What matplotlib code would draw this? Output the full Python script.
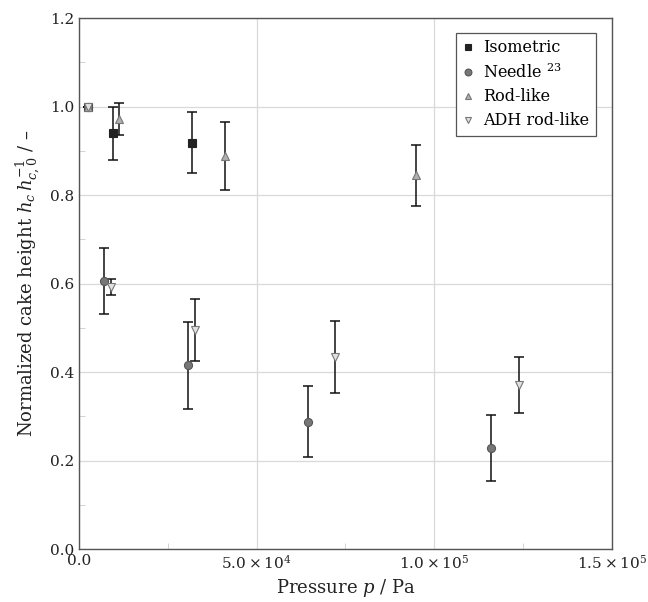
import matplotlib
matplotlib.use("Agg")
import matplotlib.pyplot as plt
from matplotlib.ticker import FixedLocator, MultipleLocator

plt.rcParams["font.family"] = ["DejaVu Serif"]
plt.rcParams["mathtext.fontset"] = "dejavuserif"

# pressure in Pa, normalized cake height, symmetric error
iso_p = [2600, 9500, 31700]
iso_h = [1.0, 0.940, 0.918]
iso_err = [0.0, 0.060, 0.069]

needle_p = [2600, 7100, 30600, 64400, 115900]
needle_h = [1.0, 0.606, 0.415, 0.288, 0.228]
needle_err = [0.0, 0.074, 0.098, 0.081, 0.074]

rod_p = [2600, 11300, 41200, 94800]
rod_h = [1.0, 0.972, 0.888, 0.845]
rod_err = [0.0, 0.037, 0.077, 0.069]

adh_p = [2600, 9000, 32600, 72200, 123900]
adh_h = [1.0, 0.593, 0.494, 0.434, 0.371]
adh_err = [0.0, 0.018, 0.070, 0.081, 0.063]

x_ticks = [0, 5e4, 1e5, 1.5e5]
x_tick_labels = ["0.0", r"$5.0\times10^{4}$", r"$1.0\times10^{5}$", r"$1.5\times10^{5}$"]

fig = plt.figure(figsize=(6.48, 6.02), dpi=100)
ax = fig.add_axes([0.122, 0.088, 0.822, 0.882])

series = [
    (iso_p, iso_h, iso_err, "s", "#222222", "#222222", "Isometric"),
    (needle_p, needle_h, needle_err, "o", "#777777", "#555555", r"Needle $^{23}$"),
    (rod_p, rod_h, rod_err, "^", "#b0b0b0", "#777777", "Rod-like"),
    (adh_p, adh_h, adh_err, "v", "#e2e2e2", "#777777", "ADH rod-like"),
]
for p, h, err, marker, face, edge, label in series:
    ax.errorbar(p, h, yerr=err, fmt="none", ecolor="#111111", elinewidth=1.1,
                capsize=3.5, capthick=1.1, zorder=3)
    ax.plot(p, h, linestyle="none", marker=marker, markersize=5.8,
            markerfacecolor=face, markeredgecolor=edge, markeredgewidth=0.8,
            label=label, zorder=4)

ax.set_xlim(0, 1.5e5)
ax.set_ylim(0, 1.2)
ax.xaxis.set_major_locator(FixedLocator(x_ticks))
ax.set_xticklabels(x_tick_labels)
ax.xaxis.set_minor_locator(MultipleLocator(2.5e4))
ax.yaxis.set_major_locator(MultipleLocator(0.2))
ax.yaxis.set_minor_locator(MultipleLocator(0.1))
ax.yaxis.set_major_formatter(matplotlib.ticker.FormatStrFormatter("%.1f"))

ax.grid(True, which="major", color="#d9d9d9", linewidth=0.9)
ax.set_axisbelow(True)
ax.tick_params(which="both", direction="in", color="#cccccc", labelsize=11,
               labelcolor="#222222")
ax.tick_params(which="major", length=0)
ax.tick_params(which="minor", length=4)
for spine in ax.spines.values():
    spine.set_color("#555555")
    spine.set_linewidth(1.0)

ax.set_xlabel(r"Pressure $p$ / Pa", fontsize=13, color="#222222", labelpad=4)
ax.set_ylabel(r"Normalized cake height $h_c\,h_{c,0}^{-1}$ / –", fontsize=13,
              color="#222222", labelpad=6)

leg = ax.legend(loc="upper right", bbox_to_anchor=(0.970, 0.972), fontsize=11.5,
                frameon=True, fancybox=False, edgecolor="#555555", framealpha=1,
                handlelength=0.7, handletextpad=0.6, borderpad=0.4, labelspacing=0.42,
                markerscale=0.85, borderaxespad=0)
leg.get_frame().set_linewidth(0.9)

fig.savefig("out.png", dpi=100)
